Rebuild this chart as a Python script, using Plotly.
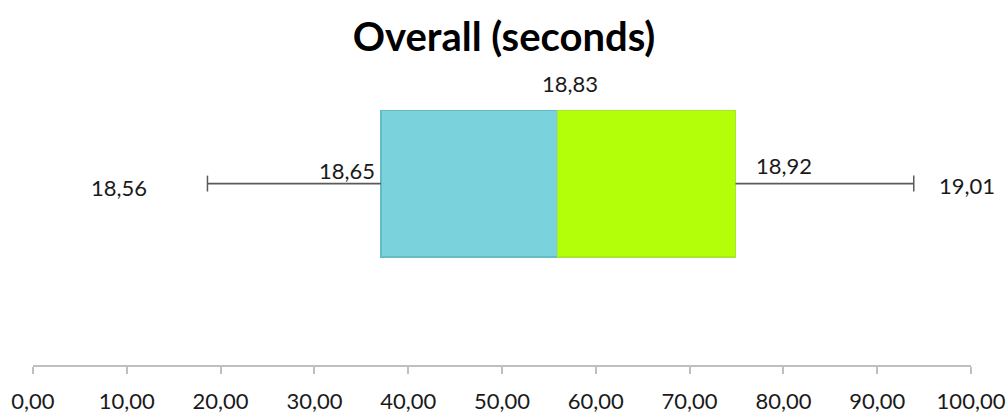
import plotly.graph_objects as go

# Five-number summary (seconds) shown as labels
stat_names = ["Min", "Q1", "Median", "Q3", "Max"]
stat_values = [18.56, 18.65, 18.83, 18.92, 19.01]
# Plotted positions of the same five points on the 0-100 scale
positions = [18.6, 37.1, 55.9, 74.9, 93.9]
tick_vals = [0, 10, 20, 30, 40, 50, 60, 70, 80, 90, 100]

def fmt(v):
    return f"{v:.2f}".replace(".", ",")

row = 0.615      # vertical centre of the box
box_h = 0.498    # box thickness
cap_h = 0.027    # half height of whisker caps

FONT = "Lato"
fig = go.Figure()

# invisible base, then lower and upper halves of the box
fig.add_trace(go.Bar(orientation="h", y=[row], x=[positions[1]], width=box_h,
                     marker=dict(color="rgba(0,0,0,0)", line=dict(width=0)),
                     hoverinfo="skip"))
fig.add_trace(go.Bar(orientation="h", y=[row], x=[positions[2] - positions[1]], width=box_h,
                     marker=dict(color="#7AD2DC", line=dict(color="#66BCC6", width=1.2))))
fig.add_trace(go.Bar(orientation="h", y=[row], x=[positions[3] - positions[2]], width=box_h,
                     marker=dict(color="#B3FF0A", line=dict(color="#A8E82A", width=1.2))))

# whiskers and caps
fig.add_trace(go.Scatter(
    x=[positions[0], positions[1], None, positions[3], positions[4]],
    y=[row, row, None, row, row],
    mode="lines", line=dict(color="#5A5A5A", width=1.8), hoverinfo="skip"))
fig.add_trace(go.Scatter(
    x=[positions[0], positions[0], None, positions[4], positions[4]],
    y=[row - cap_h, row + cap_h, None, row - cap_h, row + cap_h],
    mode="lines", line=dict(color="#5A5A5A", width=1.5), hoverinfo="skip"))

lab_font = dict(family=FONT, size=22, color="#1a1a1a")
labels = [
    dict(x=positions[0], y=row, xanchor="center", yanchor="middle", xshift=-88, yshift=-4),
    dict(x=positions[1], y=row, xanchor="right", yanchor="middle", xshift=-4, yshift=13),
    dict(x=positions[2], y=row + box_h / 2, xanchor="center", yanchor="middle", xshift=13, yshift=27),
    dict(x=positions[3], y=row, xanchor="left", yanchor="middle", xshift=18, yshift=18),
    dict(x=positions[4], y=row, xanchor="left", yanchor="middle", xshift=23, yshift=-2),
]
for v, a in zip(stat_values, labels):
    fig.add_annotation(text=fmt(v), showarrow=False, font=lab_font, **a)

fig.update_layout(
    width=1008, height=414,
    margin=dict(l=33, r=37, t=70, b=49),
    paper_bgcolor="white", plot_bgcolor="white",
    barmode="stack", showlegend=False,
    title=dict(text="<b>Overall (seconds)</b>", x=0.5, xanchor="center",
               y=1 - 37 / 414, yanchor="middle", yref="container",
               font=dict(family=FONT, size=40, color="black")),
    xaxis=dict(range=[0, 100], tickvals=tick_vals, ticktext=[fmt(t) for t in tick_vals],
               automargin=False,
               showgrid=False, zeroline=False, showline=True, linecolor="#BFBFBF", linewidth=1.5,
               ticks="outside", ticklen=7, tickcolor="#BFBFBF", tickwidth=1.5,
               ticklabelstandoff=9,
               tickfont=dict(family=FONT, size=22, color="#1a1a1a")),
    yaxis=dict(range=[0, 1], visible=False, fixedrange=True),
)

fig.write_html("out.html")
